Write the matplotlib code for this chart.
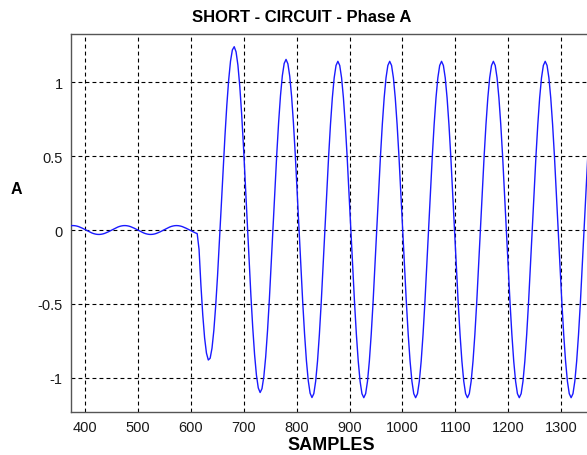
import matplotlib
matplotlib.use("Agg")
import matplotlib.pyplot as plt
import numpy as np

# sample axis: one reading every 3.5 samples, starting at sample 374
sample_start = 374
sample_step = 3.5

current = [
    # pre-fault load current (samples 374 .. 612)
    0.0295, 0.030, 0.029, 0.0266, 0.0229, 0.0179, 0.0121, 0.0057, -0.001, -0.0076, -0.0139, -0.0194, -0.0241, -0.0274,
    -0.0295, -0.030, -0.029, -0.0266, -0.0229, -0.0179, -0.0121, -0.0057, 0.001, 0.0076, 0.0139, 0.0194, 0.0241, 0.0274,
    0.0295, 0.030, 0.029, 0.0266, 0.0229, 0.0179, 0.0121, 0.0057, -0.001, -0.0076, -0.0139, -0.0194, -0.0241, -0.0274,
    -0.0295, -0.030, -0.029, -0.0266, -0.0229, -0.0179, -0.0121, -0.0057, 0.001, 0.0076, 0.0139, 0.0194, 0.0241, 0.0274,
    0.0295, 0.030, 0.029, 0.0266, 0.0229, 0.0179, 0.0121, 0.0057, -0.001, -0.0076, -0.0139, -0.0194, -0.0241,
    # fault inception with decaying offset (samples 615.5 .. 829)
    -0.131, -0.371, -0.573, -0.730, -0.833, -0.880, -0.868, -0.800, -0.679, -0.512, -0.309, -0.080, 0.162, 0.406,
    0.637, 0.844, 1.015, 1.143, 1.219, 1.241, 1.206, 1.116, 0.974, 0.788, 0.567, 0.322, 0.063, -0.195,
    -0.440, -0.659, -0.843, -0.982, -1.069, -1.100, -1.074, -0.992, -0.859, -0.681, -0.467, -0.228, 0.025, 0.277,
    0.517, 0.731, 0.910, 1.045, 1.128, 1.155, 1.125, 1.041, 0.904, 0.723, 0.506, 0.264, 0.010, -0.245,
    -0.487, -0.703, -0.884, -1.020, -1.105, -1.134,
    # steady fault current (samples 832.5 ..)
    -1.108, -1.024, -0.888, -0.708, -0.492, -0.251, 0.003, 0.257, 0.498, 0.714, 0.894, 1.030, 1.114, 1.142,
    1.114, 1.030, 0.894, 0.714, 0.498, 0.257, 0.003, -0.251, -0.492, -0.708, -0.888, -1.024, -1.108, -1.135,
    -1.108, -1.024, -0.888, -0.708, -0.492, -0.251, 0.003, 0.257, 0.498, 0.714, 0.894, 1.030, 1.114, 1.142,
    1.114, 1.030, 0.894, 0.714, 0.498, 0.257, 0.003, -0.251, -0.492, -0.708, -0.888, -1.024, -1.108, -1.135,
    -1.108, -1.024, -0.888, -0.708, -0.492, -0.251, 0.003, 0.257, 0.498, 0.714, 0.894, 1.030, 1.114, 1.142,
    1.114, 1.030, 0.894, 0.714, 0.498, 0.257, 0.003, -0.251, -0.492, -0.708, -0.888, -1.024, -1.108, -1.135,
    -1.108, -1.024, -0.888, -0.708, -0.492, -0.251, 0.003, 0.257, 0.498, 0.714, 0.894, 1.030, 1.114, 1.142,
    1.114, 1.030, 0.894, 0.714, 0.498, 0.257, 0.003, -0.251, -0.492, -0.708, -0.888, -1.024, -1.108, -1.135,
    -1.108, -1.024, -0.888, -0.708, -0.492, -0.251, 0.003, 0.257, 0.498, 0.714, 0.894, 1.030, 1.114, 1.142,
    1.114, 1.030, 0.894, 0.714, 0.498, 0.257, 0.003, -0.251, -0.492, -0.708, -0.888, -1.024, -1.108, -1.135,
    -1.108, -1.024, -0.888, -0.708, -0.492, -0.251, 0.003, 0.257, 0.498, 0.714, 0.894, 1.030,
]
samples = sample_start + sample_step * np.arange(len(current))

x_ticks = [400, 500, 600, 700, 800, 900, 1000, 1100, 1200, 1300]
y_ticks = [-1, -0.5, 0, 0.5, 1]
y_tick_labels = ["-1", "-0.5", "0", "0.5", "1"]

plt.rcParams["font.family"] = ["Liberation Sans", "DejaVu Sans"]

W, H = 587, 456
fig = plt.figure(figsize=(W / 100, H / 100), dpi=100)
ax = fig.add_axes([71 / W, 43 / H, 569.4 / W, 378 / H])

ax.plot(samples, current, color="#1a1aff", lw=1.0, zorder=3)

ax.set_xlim(373.4, 1450)
ax.set_ylim(-1.232, 1.327)
ax.set_xticks(x_ticks)
ax.set_yticks(y_ticks)
ax.set_yticklabels(y_tick_labels)
ax.tick_params(direction="in", length=0, labelsize=10.5, pad=6)
for lbl in ax.get_xticklabels() + ax.get_yticklabels():
    lbl.set_color("#1a1a1a")
ax.grid(True, color="black", linestyle=(0, (3.5, 2.8)), linewidth=0.8)
for s in ax.spines.values():
    s.set_color("#555555")
    s.set_linewidth(1.0)

fig.text(302 / W, 1 - 17 / H, "SHORT - CIRCUIT - Phase A", ha="center", va="center",
         fontsize=12, fontweight="bold")
fig.text(331 / W, 1 - 445.5 / H, "SAMPLES", ha="center", va="center",
         fontsize=13, fontweight="bold")
fig.text(16 / W, 1 - 189.5 / H, "A", ha="center", va="center",
         fontsize=11.5, fontweight="bold")

fig.savefig("out.png", dpi=100)
